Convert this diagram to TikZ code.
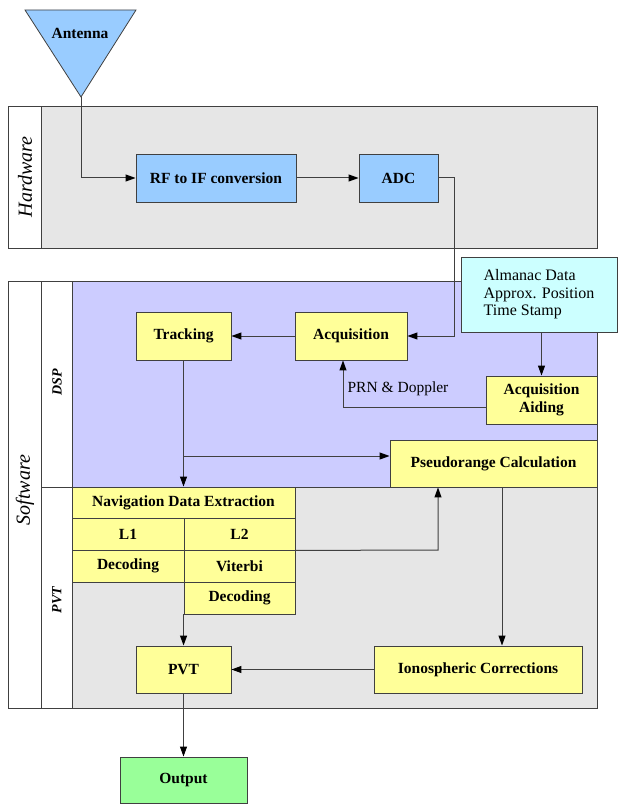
\documentclass[tikz,border=0pt]{standalone}
\usepackage{fontspec}
\setmainfont{Liberation Serif}
\usetikzlibrary{arrows.meta}

\definecolor{hwblue}{HTML}{99CCFF}
\definecolor{dspblue}{HTML}{CCCCFF}
\definecolor{lanegray}{HTML}{E6E6E6}
\definecolor{boxyellow}{HTML}{FFFF99}
\definecolor{almcyan}{HTML}{CCFFFF}
\definecolor{outgreen}{HTML}{99FF99}
\definecolor{edgegray}{HTML}{404040}

\begin{document}
\begin{tikzpicture}[x=1pt, y=-1pt,
  -{Triangle[length=10pt,width=7pt,color=black]}, line width=1pt, draw=edgegray,
  box/.style={draw=edgegray, line width=0.9pt, inner sep=0pt, font=\bfseries\fontsize{15.5}{18}\selectfont, align=center, -},
  hw box/.style={box, fill=hwblue, minimum height=48},
  sw box/.style={box, fill=boxyellow},
  cell/.style={sw box, minimum height=32},
  lane/.style={draw=edgegray, line width=0.8pt, -},
  lane label/.style={rotate=90, font=\itshape\fontsize{20}{24}\selectfont},
  sub label/.style={rotate=90, font=\bfseries\itshape\fontsize{14}{17}\selectfont}]
\useasboundingbox (0,0) rectangle (619,805);

% lanes
\filldraw[lane, fill=lanegray] (8,106) rectangle (597,248);
\filldraw[lane, fill=white] (8,106) rectangle (41,248);
\filldraw[lane, fill=dspblue] (72,281) rectangle (597,487);
\filldraw[lane, fill=lanegray] (72,487) rectangle (597,708);
\filldraw[lane, fill=white] (8,281) rectangle (41,708);
\filldraw[lane, fill=white] (41,281) rectangle (72,708);
\draw[lane] (41,487) -- (72,487);
\node[lane label] (hwlbl) at (25,177) {Hardware};
\node[lane label] (swlbl) at (25,490) {Software};
\node[sub label] (dsplbl) at (57,382) {DSP};
\node[sub label] (pvtlbl) at (57,600) {PVT};

% antenna
\filldraw[lane, fill=hwblue] (25,10) -- (136,10) -- (81,97) -- cycle;
\coordinate (anttip) at (81,97);
\node[font=\bfseries\fontsize{15.5}{18}\selectfont] (antenna) at (80,33) {Antenna};

% hardware
\node[hw box, minimum width=160] (rf)  at (216,178)   {RF to IF conversion};
\node[hw box, minimum width=79]  (adc) at (398.5,178) {ADC};

% dsp
\node[sw box, minimum width=95, minimum height=48]  (tracking) at (183.5,336) {Tracking};
\node[sw box, minimum width=112, minimum height=48] (acq)      at (351,336)   {Acquisition};
\node[box, fill=almcyan, font=\fontsize{16}{17.5}\selectfont, align=left,
      minimum width=156, minimum height=75] (almanac) at (539,294.5)
      {Almanac Data\\Approx. Position\\Time Stamp};
\node[sw box, minimum width=111, minimum height=48] (aiding) at (541.5,400) {Acquisition\\Aiding};
\node[sw box, minimum width=207, minimum height=47] (pseudo) at (493.5,463.5) {Pseudorange Calculation};
\node[font=\fontsize{15.5}{18}\selectfont] (prnlbl) at (398,389) {PRN \& Doppler};

% pvt
\node[cell, minimum width=223, minimum height=31] (navhead) at (183.5,502.5) {Navigation Data Extraction};
\node[cell, minimum width=112] (l1)   at (128,534)   {L1};
\node[cell, minimum width=111] (l2)   at (239.5,534) {L2};
\node[cell, minimum width=112] (dec1) at (128,566)   {Decoding};
\node[cell, minimum width=111] (vit)  at (239.5,566) {Viterbi};
\node[cell, minimum width=111] (dec2) at (239.5,598) {Decoding};
\node[sw box, minimum width=95, minimum height=47]  (pvt)  at (183.5,669.5) {PVT};
\node[sw box, minimum width=208, minimum height=47] (iono) at (478,669.5)   {Ionospheric Corrections};
\node[box, fill=outgreen, minimum width=127, minimum height=46] (output) at (183.5,780) {Output};

\coordinate (split)   at (183.5,456);
\coordinate (prnturn) at (343,407);
\coordinate (l2turn)  at (438,550);
\coordinate (ionodrop) at (502,487);

% connectors
\draw (anttip) |- (rf.west);
\draw (rf) -- (adc);
\draw (adc.east) -- ++(16,0) |- (acq.east);
\draw (acq) -- (tracking);
\draw (almanac.south -| aiding.north) -- (aiding.north);
\draw (aiding.west |- prnturn) -- (prnturn) -- (prnturn |- acq.south);
\draw (tracking) -- (navhead);
\draw (split) -- (split -| pseudo.west);
\draw (l2.south east) -- (l2turn) -- (l2turn |- pseudo.south);
\draw (ionodrop) -- (ionodrop |- iono.north);
\draw (dec2.south west) -- (dec2.south west |- pvt.north);
\draw (iono) -- (pvt);
\draw (pvt) -- (output);
\end{tikzpicture}
\end{document}
